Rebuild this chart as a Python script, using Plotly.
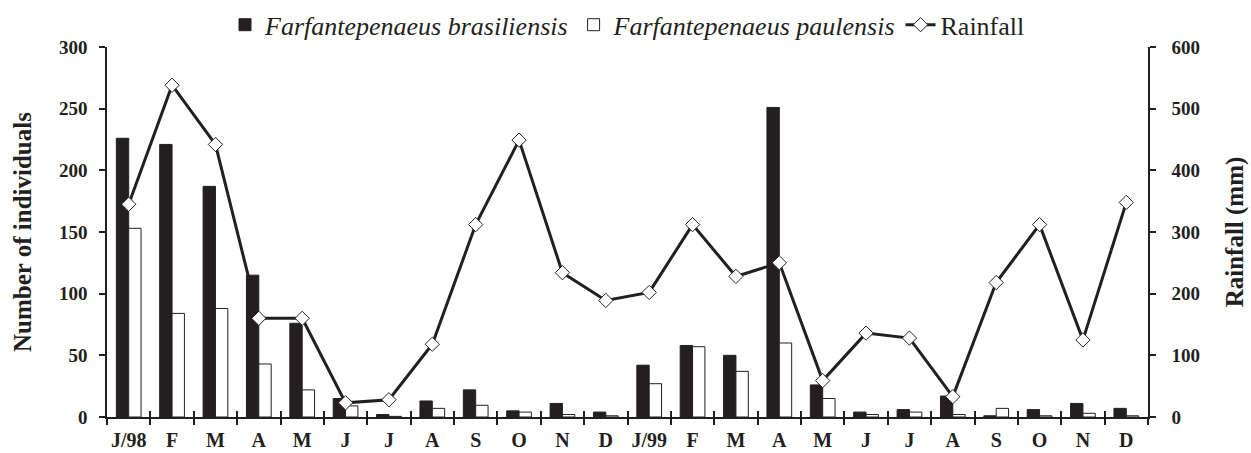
import plotly.graph_objects as go

months = ["J/98", "F", "M", "A", "M", "J", "J", "A", "S", "O", "N", "D",
          "J/99", "F", "M", "A", "M", "J", "J", "A", "S", "O", "N", "D"]
# unique category keys (labels repeat)
cats = [f"{i}" for i in range(len(months))]

brasiliensis = [226, 221, 187, 115, 76, 15, 2, 13, 22, 5, 11, 4,
                42, 58, 50, 251, 26, 4, 6, 17, 1, 6, 11, 7]
paulensis = [153, 84, 88, 43, 22, 9, 0.5, 7, 9.5, 4, 2, 1,
             27, 57, 37, 60, 15, 2, 4, 2, 7, 1, 3, 1]
rainfall = [345, 538, 442, 160, 160, 23, 28, 118, 312, 449, 234, 189,
            202, 312, 228, 250, 59, 136, 128, 33, 218, 312, 125, 348]

DARK = "#231f20"
FONT = "Liberation Serif, Times New Roman, serif"
XR = [-0.5, len(cats) - 0.5]

fig = go.Figure()
fig.add_trace(go.Bar(
    x=cats, y=brasiliensis, name="<i>Farfantepenaeus brasiliensis</i>",
    marker=dict(color=DARK, line=dict(color=DARK, width=1)),
))
fig.add_trace(go.Bar(
    x=cats, y=paulensis, name="<i>Farfantepenaeus paulensis</i>",
    marker=dict(color="white", line=dict(color=DARK, width=1)),
))
fig.add_trace(go.Scatter(
    x=cats, y=rainfall, name="Rainfall", yaxis="y2",
    mode="lines+markers",
    line=dict(color=DARK, width=3),
    marker=dict(symbol="diamond", size=11, color="white",
                line=dict(color=DARK, width=1)),
))
# helper trace to activate an overlaying x axis for inside ticks
fig.add_trace(go.Scatter(
    x=cats, y=[None] * len(cats), xaxis="x2", showlegend=False,
    hoverinfo="skip", mode="lines",
))

fig.update_layout(
    width=1251, height=453,
    margin=dict(l=107, r=103, t=47, b=36, autoexpand=False),
    paper_bgcolor="white", plot_bgcolor="white",
    barmode="group", bargap=0.43, bargroupgap=0.0,
    font=dict(family=FONT, color=DARK),
    showlegend=True,
    legend=dict(orientation="h", x=0.5, xanchor="center", y=1.06,
                yanchor="middle",
                font=dict(family=FONT, size=26, color=DARK),
                itemwidth=30, traceorder="normal", bgcolor="rgba(0,0,0,0)"),
    xaxis=dict(
        type="category", categoryorder="array", categoryarray=cats,
        range=XR, autorange=False,
        tickmode="array", tickvals=cats, ticktext=months, tickangle=0,
        tickson="boundaries", ticks="outside", ticklen=6, tickwidth=1.5,
        tickcolor=DARK, showline=True, linecolor=DARK, linewidth=1.5,
        showgrid=False, zeroline=False,
        tickfont=dict(family=FONT, size=20, color=DARK, weight="bold"),
        ticklabelstandoff=4,
    ),
    xaxis2=dict(
        type="category", overlaying="x", side="bottom",
        categoryorder="array", categoryarray=cats,
        range=XR, autorange=False,
        tickmode="array", tickvals=cats, ticktext=[""] * len(cats),
        tickson="boundaries", ticks="inside", ticklen=6, tickwidth=1.5,
        tickcolor=DARK, showline=False, showgrid=False, zeroline=False,
        showticklabels=False,
    ),
    yaxis=dict(
        range=[0, 300], tickvals=[0, 50, 100, 150, 200, 250, 300],
        ticks="outside", ticklen=6, tickwidth=1.5, tickcolor=DARK,
        showline=True, linecolor=DARK, linewidth=1.5,
        showgrid=False, zeroline=False,
        tickfont=dict(family=FONT, size=19, color=DARK, weight="bold"),
        ticklabelstandoff=8,
        title=dict(text="Number of individuals", standoff=20,
                   font=dict(family=FONT, size=25, color=DARK, weight="bold")),
    ),
    yaxis2=dict(
        range=[0, 600], tickvals=[0, 100, 200, 300, 400, 500, 600],
        overlaying="y", side="right",
        ticks="outside", ticklen=6, tickwidth=1.5, tickcolor=DARK,
        showline=True, linecolor=DARK, linewidth=1.5,
        showgrid=False, zeroline=False,
        tickfont=dict(family=FONT, size=19, color=DARK, weight="bold"),
        ticklabelstandoff=12,
        title=dict(text="Rainfall (mm)", standoff=26,
                   font=dict(family=FONT, size=25, color=DARK, weight="bold")),
    ),
)

fig.write_html("out.html",
               config={"displayModeBar": False},
               post_script="document.body.style.margin='0px';")
